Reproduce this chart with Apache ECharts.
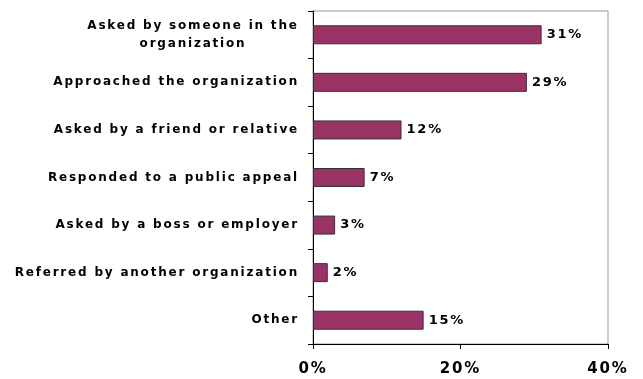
<!DOCTYPE html>
<html>
<head>
<meta charset="utf-8">
<style>
  html, body { margin: 0; padding: 0; background: #fff; }
  #chart { width: 643px; height: 379px; }
</style>
<script src="https://cdn.jsdelivr.net/npm/echarts@6/dist/echarts.min.js"></script>
</head>
<body>
<div id="chart"></div>
<script>
// How people came to volunteer: share of respondents per route
const categories = [
  'Asked by someone in the\norganization',
  'Approached the organization',
  'Asked by a friend or relative',
  'Responded to a public appeal',
  'Asked by a boss or employer',
  'Referred by another organization',
  'Other'
];
const shares = [31, 29, 12, 7, 3, 2, 15];
const xTicks = { min: 0, max: 40, interval: 20 };

// Widely tracked lettering for every text drawn on the canvas
const TRACKING = '1.8px';
const proto = CanvasRenderingContext2D.prototype;
const baseFillText = proto.fillText;
proto.fillText = function () {
  try { this.letterSpacing = TRACKING; } catch (e) {}
  return baseFillText.apply(this, arguments);
};

const chart = echarts.init(document.getElementById('chart'), null, { renderer: 'canvas' });
const font = 'DejaVu Sans';

chart.setOption({
  animation: false,
  grid: {
    left: 313, top: 11, right: 35, bottom: 35,
    show: true, borderColor: '#999', borderWidth: 1, backgroundColor: '#fff'
  },
  xAxis: {
    type: 'value',
    min: xTicks.min, max: xTicks.max, interval: xTicks.interval,
    axisLine: { show: true, lineStyle: { color: '#000', width: 1 } },
    axisTick: { show: true, length: 5, inside: false, lineStyle: { color: '#000' } },
    splitLine: { show: false },
    axisLabel: {
      formatter: '{value}%', margin: 18,
      fontFamily: font, fontWeight: 'bold', fontSize: 15, color: '#000'
    }
  },
  yAxis: {
    type: 'category',
    inverse: true,
    data: categories,
    axisLine: { show: true, lineStyle: { color: '#000', width: 1 } },
    axisTick: { show: true, length: 5, lineStyle: { color: '#000' } },
    axisLabel: {
      margin: 14,
      fontFamily: font, fontWeight: 'bold', fontSize: 12, color: '#000',
      lineHeight: 18,
      formatter: function (v) {
        if (v.indexOf('\n') < 0) return v;
        return v.split('\n').map(function (s) { return '{c|' + s + '}'; }).join('\n');
      },
      rich: {
        c: { fontFamily: font, fontWeight: 'bold', fontSize: 12, color: '#000', align: 'center', width: 212, lineHeight: 18 }
      }
    }
  },
  series: [{
    type: 'bar',
    data: shares,
    barWidth: 19,
    itemStyle: { color: '#993366', borderColor: '#333', borderWidth: 1 },
    label: {
      show: true, position: 'right', distance: 5,
      formatter: '{c}%',
      fontFamily: font, fontWeight: 'bold', fontSize: 13, color: '#000'
    }
  }]
});
</script>
</body>
</html>
